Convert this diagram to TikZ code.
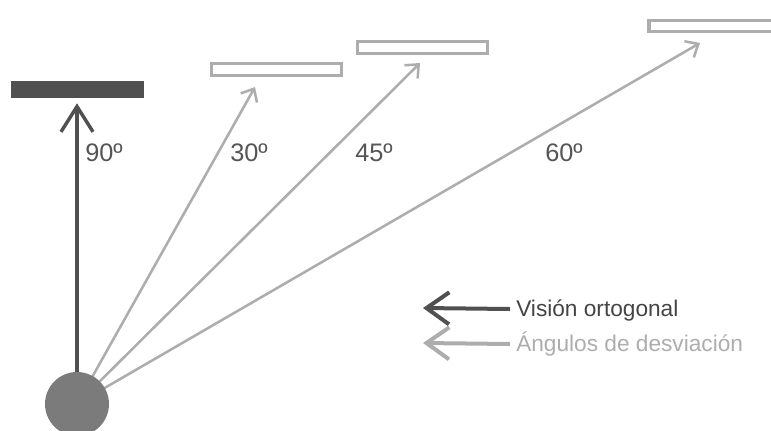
\documentclass[tikz,border=0pt]{standalone}
\usepackage{fontspec}
\setmainfont{Liberation Sans}
\usetikzlibrary{arrows.meta}
\definecolor{darkgr}{HTML}{505050}
\definecolor{lightgr}{HTML}{ADADAD}
\definecolor{ballgr}{HTML}{7B7B7B}
\definecolor{labelgr}{HTML}{555555}

\begin{document}
\begin{tikzpicture}[x=0.75pt,y=-0.75pt]
\tikzstyle{plate}=[draw=lightgr,line width=2.3pt,fill=white,minimum width=97.5pt,minimum height=8.5pt,inner sep=0pt]
\tikzstyle{wall}=[draw=darkgr,fill=darkgr,minimum width=99pt,minimum height=12pt,inner sep=0pt]
\tikzstyle{ortho}=[draw=darkgr,line width=2.6pt,-{Straight Barb[length=19pt,width=24pt]}]
\tikzstyle{dev}=[draw=lightgr,line width=1.9pt,-{Straight Barb[length=8pt,width=14pt]}]
\tikzstyle{deg}=[text=labelgr,font=\fontsize{19}{22}\selectfont,inner sep=0pt]
\tikzstyle{legend}=[anchor=west,font=\fontsize{17}{20}\selectfont,text height=11.5pt,text depth=0pt,inner xsep=4.5pt]
\useasboundingbox (0,0) rectangle (771,430);

% superficies
\node[wall] (w90) at (77,89) {};
\node[plate] (p30) at (276.5,69.5) {};
\node[plate] (p45) at (422.5,47.5) {};
\node[plate] (p60) at (714,26) {};

% rayos
\coordinate (c) at (77,404);
\coordinate (t30) at (255,87);
\coordinate (t45) at (420,63);
\coordinate (t60) at (700,43);
\draw[dev] (c) -- (t30);
\draw[dev] (c) -- (t45);
\draw[dev] (c) -- (t60);
\draw[ortho,shorten >=4.5pt] (c) -- (w90.south);
\node[circle,fill=ballgr,minimum size=48pt,inner sep=0pt] (ball) at (c) {};

\node[deg] (a90) at (104,153) {90º};
\node[deg] (a30) at (249,153) {30º};
\node[deg] (a45) at (374,153) {45º};
\node[deg] (a60) at (564,153) {60º};

% leyenda
\node[legend,text=darkgr!85!black] (leg1) at (510,309) {Visión ortogonal};
\node[legend,text=lightgr] (leg2) at (510,344) {Ángulos de desviación};
\coordinate (l1) at (423,308);
\coordinate (l2) at (423,343);
\draw[ortho,line width=3pt,-{Straight Barb[length=17pt,width=24pt]}] (leg1.west) -- (l1);
\draw[dev,line width=3pt,-{Straight Barb[length=17pt,width=24pt]}] (leg2.west) -- (l2);
\end{tikzpicture}
\end{document}
